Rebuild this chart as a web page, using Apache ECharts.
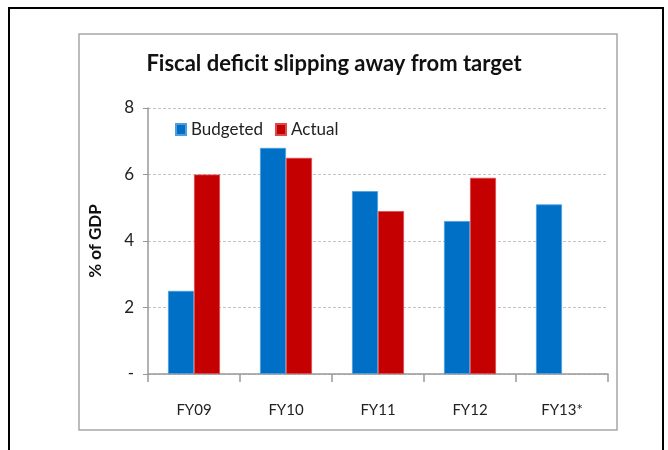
<!DOCTYPE html>
<html>
<head>
<meta charset="utf-8">
<script src="https://cdn.jsdelivr.net/npm/echarts@6/dist/echarts.min.js"></script>
<style>
  html,body{margin:0;padding:0;background:#fff;}
  #chart{width:668px;height:450px;}
</style>
</head>
<body>
<div id="chart"></div>
<script>
  // 年度
  var years = ['FY09', 'FY10', 'FY11', 'FY12', 'FY13*'];
  // 预算赤字 (% of GDP)
  var budgeted = [2.5, 6.8, 5.5, 4.6, 5.1];
  // 实际赤字
  var actual = [6.0, 6.5, 4.9, 5.9, null];
  // y 轴刻度
  var yTicks = [0, 2, 4, 6, 8];

  var font = 'Lato, "Open Sans", sans-serif';

  var option = {
    backgroundColor: '#fff',
    animation: false,
    title: {
      text: 'Fiscal deficit slipping away from target',
      left: 'center',
      top: 48,
      textStyle: { fontFamily: font, fontSize: 22, fontWeight: 'bold', color: '#111' }
    },
    legend: {
      left: 170,
      top: 116,
      icon: 'rect',
      itemWidth: 10,
      itemHeight: 11,
      itemGap: 12,
      textStyle: { fontFamily: font, fontSize: 17, color: '#222' },
      data: ['Budgeted', 'Actual']
    },
    graphic: [
      // 外框
      { type: 'rect', shape: { x: 9, y: 8, width: 654, height: 460 }, style: { fill: 'none', stroke: '#000', lineWidth: 2 }, silent: true },
      // 图表区边框
      { type: 'rect', shape: { x: 79, y: 34, width: 538, height: 396 }, style: { fill: 'none', stroke: '#a6a6a6', lineWidth: 1.5 }, silent: true }
    ],
    grid: { left: 148, right: 60, top: 108, bottom: 76 },
    xAxis: {
      type: 'category',
      data: years,
      axisLine: { lineStyle: { color: '#999', width: 1.5 } },
      axisTick: { show: true, length: 8, lineStyle: { color: '#999', width: 1.5 } },
      axisLabel: { margin: 29, fontFamily: font, fontSize: 15, color: '#222' }
    },
    yAxis: {
      type: 'value',
      min: 0,
      max: 8,
      interval: 2,
      name: '% of GDP',
      nameLocation: 'middle',
      nameRotate: 90,
      nameGap: 44,
      nameTextStyle: { fontFamily: font, fontSize: 17, fontWeight: 'bold', color: '#111' },
      axisLine: { show: true, lineStyle: { color: '#999', width: 1.5 } },
      axisTick: { show: true, length: 5, lineStyle: { color: '#999' } },
      axisLabel: {
        margin: 14,
        fontFamily: font,
        fontSize: 17,
        color: '#222',
        formatter: function (v) { return yTicks.indexOf(v) === 0 ? '-' : String(v); }
      },
      splitLine: { lineStyle: { color: '#c4c4c4', type: [3, 2] } }
    },
    series: [
      {
        name: 'Budgeted',
        type: 'bar',
        barWidth: 26,
        barGap: '0%',
        data: budgeted,
        itemStyle: { color: '#0070c6', borderColor: '#4f9ddc', borderWidth: 0.8 }
      },
      {
        name: 'Actual',
        type: 'bar',
        barWidth: 26,
        data: actual,
        itemStyle: { color: '#c40000', borderColor: '#de4a4a', borderWidth: 0.8 }
      }
    ]
  };

  var myChart = echarts.init(document.getElementById('chart'));
  myChart.setOption(option);
</script>
</body>
</html>
